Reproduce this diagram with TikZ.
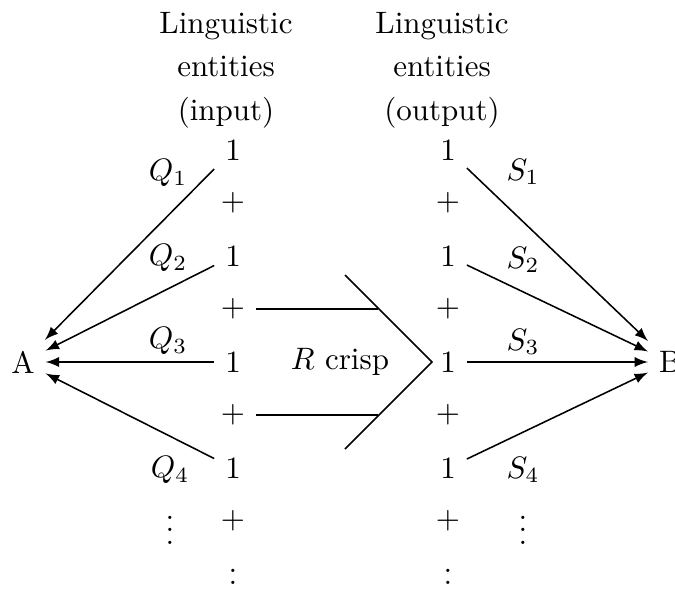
\documentclass[tikz,border=0pt]{standalone}
\usepackage{amsmath}
\usepackage{amssymb}
\usepackage{tikz}

\begin{document}
\begin{tikzpicture}[x=0.3226pt, y=-0.3226pt, >=latex, line width=0.5pt,
  head/.style={align=center}]
  \useasboundingbox (0,0) rectangle (675,591);
  \node[head] (hin) at (226,70) {Linguistic\\[2pt] entities\\[2pt] (input)};
  \node[head] (hout) at (442,70) {Linguistic\\[2pt] entities\\[2pt] (output)};
  \node (A) at (23,362) {A};
  \node (B) at (670,362) {B};
  \node (in1) at (233,150) {$1$};
  \node (ip1) at (233,203) {$+$};
  \node (in2) at (233,256) {$1$};
  \node (ip2) at (233,309) {$+$};
  \node (in3) at (233,362) {$1$};
  \node (ip3) at (233,415) {$+$};
  \node (in4) at (233,468) {$1$};
  \node (ip4) at (233,521) {$+$};
  \node (idots) at (233,574) {$\vdots$};
  \node (out1) at (448,150) {$1$};
  \node (op1) at (448,203) {$+$};
  \node (out2) at (448,256) {$1$};
  \node (op2) at (448,309) {$+$};
  \node (out3) at (448,362) {$1$};
  \node (op3) at (448,415) {$+$};
  \node (out4) at (448,468) {$1$};
  \node (op4) at (448,521) {$+$};
  \node (odots) at (448,574) {$\vdots$};
  \node (Q1) at (168,173) {$Q_1$};
  \node (Q2) at (168,258) {$Q_2$};
  \node (Q3) at (168,341) {$Q_3$};
  \node (Q4) at (170,470) {$Q_4$};
  \node (qdots) at (170,521) {$\vdots$};
  \node (S1) at (523,172) {$S_1$};
  \node (S2) at (523,260) {$S_2$};
  \node (S3) at (523,342) {$S_3$};
  \node (S4) at (523,470) {$S_4$};
  \node (sdots) at (523,521) {$\vdots$};
  \node (R) at (340,362) {$R$ crisp};
  \draw (ip2.east) -- (378,309);
  \draw (ip3.east) -- (378,415);
  \draw (345,275) -- (432,362) -- (345,449);
  \draw[->] (in1) -- (A);
  \draw[->] (in2) -- (A);
  \draw[->] (in3) -- (A);
  \draw[->] (in4) -- (A);
  \draw[->] (out1) -- (B);
  \draw[->] (out2) -- (B);
  \draw[->] (out3) -- (B);
  \draw[->] (out4) -- (B);
\end{tikzpicture}
\end{document}
